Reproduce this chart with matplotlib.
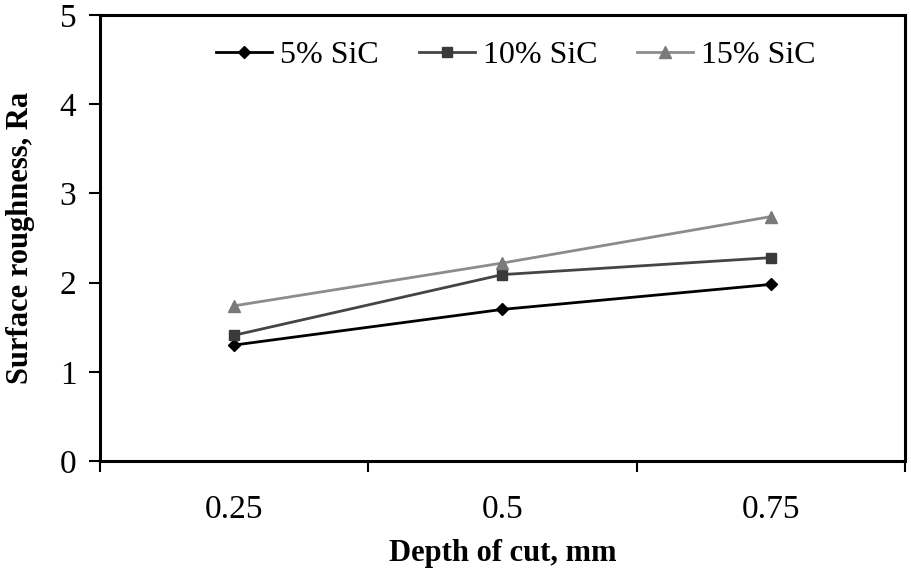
import matplotlib.pyplot as plt
import numpy as np

depth_labels = ['0.25', '0.5', '0.75']
sic_5 = [1.30, 1.70, 1.98]
sic_10 = [1.41, 2.09, 2.28]
sic_15 = [1.74, 2.22, 2.74]

plt.rcParams['font.family'] = 'Liberation Serif'

fig = plt.figure(figsize=(9.12, 5.71), dpi=100)
ax = fig.add_axes([0.1096, 0.1926, 0.8827, 0.7811])

x = np.arange(len(depth_labels))
ax.plot(x, sic_5, color='black', lw=2, marker='D', ms=6, mfc='black', mec='black', label='5% SiC')
ax.plot(x, sic_10, color='#454545', lw=2, marker='s', ms=7, mfc='#3a3a3a', mec='#3a3a3a', label='10% SiC')
ax.plot(x, sic_15, color='#8c8c8c', lw=2, marker='^', ms=8, mfc='#7a7a7a', mec='#7a7a7a', label='15% SiC')

ax.set_xlim(-0.5, 2.5)
ax.set_ylim(0, 5)
ax.set_yticks(range(6))
ax.set_xticks(x)
ax.set_xticklabels(depth_labels)
ax.set_xticks([-0.5, 0.5, 1.5, 2.5], minor=True)
ax.tick_params(axis='x', which='major', length=0, pad=24, labelsize=24)
ax.tick_params(axis='x', which='minor', length=8, width=1.5, direction='out')
ax.tick_params(axis='y', length=8, width=1.5, direction='out', labelsize=24, pad=9)
for s in ax.spines.values():
    s.set_linewidth(2.2)

ax.set_xlabel('Depth of cut, mm', fontsize=22, fontweight='bold', labelpad=10)
ax.set_ylabel('Surface roughness, Ra', fontsize=22, fontweight='bold', labelpad=18)

ax.legend(loc='center', bbox_to_anchor=(0.517, 0.910), ncol=3, frameon=False,
          fontsize=23, handlelength=1.75, handletextpad=0.25, columnspacing=1.25,
          borderpad=0)

fig.savefig('out.png', dpi=100)
